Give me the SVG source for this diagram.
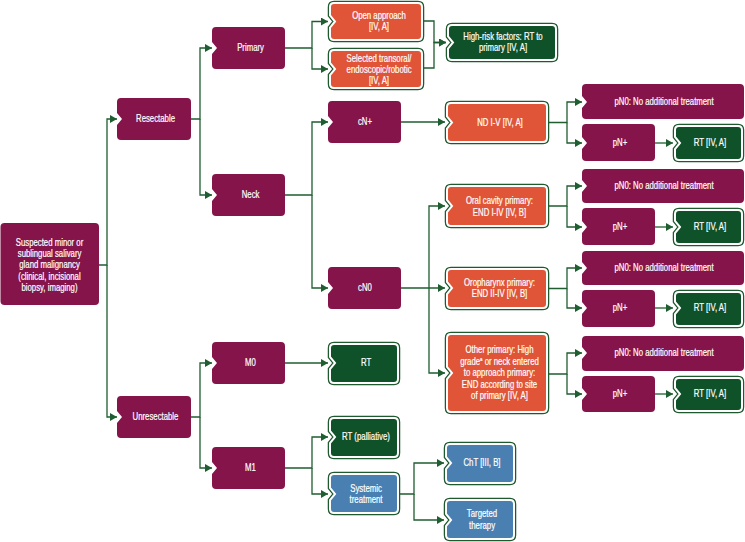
<svg xmlns="http://www.w3.org/2000/svg" width="745" height="542" viewBox="0 0 745 542">
<style>
.m{fill:#85144B}
.ring{fill:none;stroke:#1E5A2E;stroke-width:4.5}
.o{fill:#E05438;stroke:#FFFFFF;stroke-width:2}
.g{fill:#0F5128;stroke:#FFFFFF;stroke-width:2}
.b{fill:#4A7FB1;stroke:#FFFFFF;stroke-width:2}
text{font-family:"Liberation Sans",Arial,sans-serif;font-size:10px;fill:#FFFFFF;stroke:#FFFFFF;stroke-width:0.2;text-anchor:middle;transform-box:fill-box;transform-origin:center;transform:scaleX(0.78)}
.sup{font-size:5.5px}
#connectors path{fill:none;stroke:#1F5E30;stroke-width:1.3;marker-end:url(#arr)}
</style>
<defs>
<marker id="arr" markerUnits="userSpaceOnUse" markerWidth="7" markerHeight="8" refX="7" refY="4" orient="auto">
<path d="M0 0 L7 4 L0 8 Z" fill="#1F5E30"/>
</marker>
</defs>
<rect width="745" height="542" fill="#FFFFFF"/>

<g id="connectors">
<path d="M99 265 H107 V119 H117"/>
<path d="M107 265 V417 H117"/>
<path d="M191 119 H200 V48 H212"/>
<path d="M200 119 V195 H212"/>
<path d="M191 417 H200 V363 H212"/>
<path d="M200 417 V468 H212"/>
<path d="M285 48 H312 V21.5 H328"/>
<path d="M312 48 V69 H328"/>
<path d="M424 21 H434 V42.5 H446"/>
<path d="M424 68 H434 V42.5 H446"/>
<path d="M285 195 H312 V122 H328"/>
<path d="M312 195 V288 H328"/>
<path d="M401 122 H445"/>
<path d="M401 288 H445"/>
<path d="M429 288 V206 H445"/>
<path d="M429 288 V373 H445"/>
<path d="M549 122.5 H567 V102 H582"/>
<path d="M567 122.5 V143 H582"/>
<path d="M655 143 H673"/>
<path d="M549 206 H567 V186 H582"/>
<path d="M567 206 V227 H582"/>
<path d="M655 227 H673"/>
<path d="M549 288.5 H567 V268 H582"/>
<path d="M567 288.5 V308 H582"/>
<path d="M655 308 H673"/>
<path d="M549 374 H567 V353 H582"/>
<path d="M567 374 V394 H582"/>
<path d="M655 394 H673"/>
<path d="M285 363 H328"/>
<path d="M285 468 H312 V437 H328"/>
<path d="M312 468 V494 H328"/>
<path d="M400 494 H414 V463 H444"/>
<path d="M414 494 V520 H444"/>
</g>

<g id="n-root">
<rect class="m" x="0.5" y="223" width="98.5" height="82" rx="4"/>
<text x="49.5" y="245.8">Suspected minor or</text>
<text x="49.5" y="257">sublingual salivary</text>
<text x="49.5" y="268.3">gland malignancy</text>
<text x="49.5" y="279.6">(clinical, incisional</text>
<text x="49.5" y="291">biopsy, imaging)</text>
</g>

<g id="n-resectable">
<path class="m" d="M121 98 H187 Q191 98 191 102 V136 Q191 140 187 140 H121 Q117 140 117 136 V125 L122 119 L117 113 V102 Q117 98 121 98Z"/>
<text x="155.5" y="122.5">Resectable</text>
</g>

<g id="n-unresectable">
<path class="m" d="M121 396 H187 Q191 396 191 400 V434 Q191 438 187 438 H121 Q117 438 117 434 V423 L122 417 L117 411 V400 Q117 396 121 396Z"/>
<text x="155.5" y="420.5">Unresectable</text>
</g>

<g id="n-primary">
<path class="m" d="M216 27 H281 Q285 27 285 31 V65 Q285 69 281 69 H216 Q212 69 212 65 V54 L217 48 L212 42 V31 Q212 27 216 27Z"/>
<text x="250.5" y="51.5">Primary</text>
</g>

<g id="n-neck">
<path class="m" d="M216 174 H281 Q285 174 285 178 V212 Q285 216 281 216 H216 Q212 216 212 212 V201 L217 195 L212 189 V178 Q212 174 216 174Z"/>
<text x="250.5" y="198.5">Neck</text>
</g>

<g id="n-m0">
<path class="m" d="M216 342 H281 Q285 342 285 346 V380 Q285 384 281 384 H216 Q212 384 212 380 V369 L217 363 L212 357 V346 Q212 342 216 342Z"/>
<text x="250.5" y="366.5">M0</text>
</g>

<g id="n-m1">
<path class="m" d="M216 447 H281 Q285 447 285 451 V485 Q285 489 281 489 H216 Q212 489 212 485 V474 L217 468 L212 462 V451 Q212 447 216 447Z"/>
<text x="250.5" y="471.5">M1</text>
</g>

<g id="n-open">
<path class="ring" d="M334 3 H418 Q422 3 422 7 V36 Q422 40 418 40 H334 Q330 40 330 36 V27.5 L335 21.5 L330 15.5 V7 Q330 3 334 3Z"/>
<path class="o" d="M334 3 H418 Q422 3 422 7 V36 Q422 40 418 40 H334 Q330 40 330 36 V27.5 L335 21.5 L330 15.5 V7 Q330 3 334 3Z"/>
<text x="379" y="19">Open approach</text>
<text x="379" y="30">[IV, A]</text>
</g>

<g id="n-selected">
<path class="ring" d="M334 50 H418 Q422 50 422 54 V84 Q422 88 418 88 H334 Q330 88 330 84 V75 L335 69 L330 63 V54 Q330 50 334 50Z"/>
<path class="o" d="M334 50 H418 Q422 50 422 54 V84 Q422 88 418 88 H334 Q330 88 330 84 V75 L335 69 L330 63 V54 Q330 50 334 50Z"/>
<text x="379" y="62">Selected transoral/</text>
<text x="379" y="73">endoscopic/robotic</text>
<text x="379" y="84">[IV, A]</text>
</g>

<g id="n-highrisk">
<path class="ring" d="M452 25 H552 Q556 25 556 29 V56 Q556 60 552 60 H452 Q448 60 448 56 V48.5 L453 42.5 L448 36.5 V29 Q448 25 452 25Z"/>
<path class="g" d="M452 25 H552 Q556 25 556 29 V56 Q556 60 552 60 H452 Q448 60 448 56 V48.5 L453 42.5 L448 36.5 V29 Q448 25 452 25Z"/>
<text x="503" y="40">High-risk factors: RT to</text>
<text x="503" y="51">primary [IV, A]</text>
</g>

<g id="n-cnplus">
<path class="m" d="M332 101 H397 Q401 101 401 105 V139 Q401 143 397 143 H332 Q328 143 328 139 V128 L333 122 L328 116 V105 Q328 101 332 101Z"/>
<text x="365" y="125.5">cN+</text>
</g>

<g id="n-cn0">
<path class="m" d="M332 267 H397 Q401 267 401 271 V305 Q401 309 397 309 H332 Q328 309 328 305 V294 L333 288 L328 282 V271 Q328 267 332 267Z"/>
<text x="365" y="291.5">cN0</text>
</g>

<g id="n-nd">
<path class="ring" d="M451 103 H543 Q547 103 547 107 V138 Q547 142 543 142 H451 Q447 142 447 138 V128.5 L452 122.5 L447 116.5 V107 Q447 103 451 103Z"/>
<path class="o" d="M451 103 H543 Q547 103 547 107 V138 Q547 142 543 142 H451 Q447 142 447 138 V128.5 L452 122.5 L447 116.5 V107 Q447 103 451 103Z"/>
<text x="500" y="126">ND I-V [IV, A]</text>
</g>

<g id="n-oral">
<path class="ring" d="M451 186 H543 Q547 186 547 190 V222 Q547 226 543 226 H451 Q447 226 447 222 V212 L452 206 L447 200 V190 Q447 186 451 186Z"/>
<path class="o" d="M451 186 H543 Q547 186 547 190 V222 Q547 226 543 226 H451 Q447 226 447 222 V212 L452 206 L447 200 V190 Q447 186 451 186Z"/>
<text x="499.5" y="204.5">Oral cavity primary:</text>
<text x="499.5" y="215.8">END I-IV [IV, B]</text>
</g>

<g id="n-oro">
<path class="ring" d="M451 269 H543 Q547 269 547 273 V304 Q547 308 543 308 H451 Q447 308 447 304 V294 L452 288 L447 282 V273 Q447 269 451 269Z"/>
<path class="o" d="M451 269 H543 Q547 269 547 273 V304 Q547 308 543 308 H451 Q447 308 447 304 V294 L452 288 L447 282 V273 Q447 269 451 269Z"/>
<text x="499.5" y="286">Oropharynx primary:</text>
<text x="499.5" y="297">END II-IV [IV, B]</text>
</g>

<g id="n-other">
<path class="ring" d="M451 334 H543 Q547 334 547 338 V408 Q547 412 543 412 H451 Q447 412 447 408 V379 L452 373 L447 367 V338 Q447 334 451 334Z"/>
<path class="o" d="M451 334 H543 Q547 334 547 338 V408 Q547 412 543 412 H451 Q447 412 447 408 V379 L452 373 L447 367 V338 Q447 334 451 334Z"/>
<text x="499.5" y="353.5">Other primary: High</text>
<text x="499.5" y="365">grade<tspan class="sup" dy="-3.5">a</tspan><tspan dy="3.5"> or neck entered</tspan></text>
<text x="499.5" y="376.5">to approach primary:</text>
<text x="499.5" y="388">END according to site</text>
<text x="499.5" y="399.5">of primary [IV, A]</text>
</g>

<g id="n-pn0-1">
<path class="m" d="M586 84 H740 Q744 84 744 88 V115 Q744 119 740 119 H586 Q582 119 582 115 V108 L587 102 L582 96 V88 Q582 84 586 84Z"/>
<text x="664" y="105.5">pN0: No additional treatment</text>
</g>
<g id="n-pnp-1">
<path class="m" d="M586 124 H651 Q655 124 655 128 V157 Q655 161 651 161 H586 Q582 161 582 157 V149 L587 143 L582 137 V128 Q582 124 586 124Z"/>
<text x="620" y="146.5">pN+</text>
</g>
<g id="n-rt-1">
<path class="ring" d="M679 126 H738 Q742 126 742 130 V156 Q742 160 738 160 H679 Q675 160 675 156 V149 L680 143 L675 137 V130 Q675 126 679 126Z"/>
<path class="g" d="M679 126 H738 Q742 126 742 130 V156 Q742 160 738 160 H679 Q675 160 675 156 V149 L680 143 L675 137 V130 Q675 126 679 126Z"/>
<text x="710" y="146.5">RT [IV, A]</text>
</g>

<g id="n-pn0-2">
<path class="m" d="M586 169 H740 Q744 169 744 173 V199 Q744 203 740 203 H586 Q582 203 582 199 V192 L587 186 L582 180 V173 Q582 169 586 169Z"/>
<text x="664" y="189.5">pN0: No additional treatment</text>
</g>
<g id="n-pnp-2">
<path class="m" d="M586 208 H651 Q655 208 655 212 V241 Q655 245 651 245 H586 Q582 245 582 241 V233 L587 227 L582 221 V212 Q582 208 586 208Z"/>
<text x="620" y="230.5">pN+</text>
</g>
<g id="n-rt-2">
<path class="ring" d="M679 210 H738 Q742 210 742 214 V240 Q742 244 738 244 H679 Q675 244 675 240 V233 L680 227 L675 221 V214 Q675 210 679 210Z"/>
<path class="g" d="M679 210 H738 Q742 210 742 214 V240 Q742 244 738 244 H679 Q675 244 675 240 V233 L680 227 L675 221 V214 Q675 210 679 210Z"/>
<text x="710" y="230.5">RT [IV, A]</text>
</g>

<g id="n-pn0-3">
<path class="m" d="M586 251 H740 Q744 251 744 255 V281 Q744 285 740 285 H586 Q582 285 582 281 V274 L587 268 L582 262 V255 Q582 251 586 251Z"/>
<text x="664" y="271.5">pN0: No additional treatment</text>
</g>
<g id="n-pnp-3">
<path class="m" d="M586 290 H651 Q655 290 655 294 V323 Q655 327 651 327 H586 Q582 327 582 323 V314 L587 308 L582 302 V294 Q582 290 586 290Z"/>
<text x="620" y="311.5">pN+</text>
</g>
<g id="n-rt-3">
<path class="ring" d="M679 292 H738 Q742 292 742 296 V322 Q742 326 738 326 H679 Q675 326 675 322 V314 L680 308 L675 302 V296 Q675 292 679 292Z"/>
<path class="g" d="M679 292 H738 Q742 292 742 296 V322 Q742 326 738 326 H679 Q675 326 675 322 V314 L680 308 L675 302 V296 Q675 292 679 292Z"/>
<text x="710" y="311.5">RT [IV, A]</text>
</g>

<g id="n-pn0-4">
<path class="m" d="M586 336 H740 Q744 336 744 340 V367 Q744 371 740 371 H586 Q582 371 582 367 V359 L587 353 L582 347 V340 Q582 336 586 336Z"/>
<text x="664" y="356.5">pN0: No additional treatment</text>
</g>
<g id="n-pnp-4">
<path class="m" d="M586 376 H651 Q655 376 655 380 V408 Q655 412 651 412 H586 Q582 412 582 408 V400 L587 394 L582 388 V380 Q582 376 586 376Z"/>
<text x="620" y="397.5">pN+</text>
</g>
<g id="n-rt-4">
<path class="ring" d="M679 378 H738 Q742 378 742 382 V407 Q742 411 738 411 H679 Q675 411 675 407 V400 L680 394 L675 388 V382 Q675 378 679 378Z"/>
<path class="g" d="M679 378 H738 Q742 378 742 382 V407 Q742 411 738 411 H679 Q675 411 675 407 V400 L680 394 L675 388 V382 Q675 378 679 378Z"/>
<text x="710" y="397.5">RT [IV, A]</text>
</g>

<g id="n-rt-m0">
<path class="ring" d="M334 344 H394 Q398 344 398 348 V379 Q398 383 394 383 H334 Q330 383 330 379 V369 L335 363 L330 357 V348 Q330 344 334 344Z"/>
<path class="g" d="M334 344 H394 Q398 344 398 348 V379 Q398 383 394 383 H334 Q330 383 330 379 V369 L335 363 L330 357 V348 Q330 344 334 344Z"/>
<text x="366" y="366.5">RT</text>
</g>

<g id="n-rt-pall">
<path class="ring" d="M334 418 H394 Q398 418 398 422 V453 Q398 457 394 457 H334 Q330 457 330 453 V443 L335 437 L330 431 V422 Q330 418 334 418Z"/>
<path class="g" d="M334 418 H394 Q398 418 398 422 V453 Q398 457 394 457 H334 Q330 457 330 453 V443 L335 437 L330 431 V422 Q330 418 334 418Z"/>
<text x="366" y="440.5">RT (palliative)</text>
</g>

<g id="n-systemic">
<path class="ring" d="M334 474 H394 Q398 474 398 478 V509 Q398 513 394 513 H334 Q330 513 330 509 V500 L335 494 L330 488 V478 Q330 474 334 474Z"/>
<path class="b" d="M334 474 H394 Q398 474 398 478 V509 Q398 513 394 513 H334 Q330 513 330 509 V500 L335 494 L330 488 V478 Q330 474 334 474Z"/>
<text x="366" y="492">Systemic</text>
<text x="366" y="503">treatment</text>
</g>

<g id="n-cht">
<path class="ring" d="M450 444 H510 Q514 444 514 448 V479 Q514 483 510 483 H450 Q446 483 446 479 V469 L451 463 L446 457 V448 Q446 444 450 444Z"/>
<path class="b" d="M450 444 H510 Q514 444 514 448 V479 Q514 483 510 483 H450 Q446 483 446 479 V469 L451 463 L446 457 V448 Q446 444 450 444Z"/>
<text x="482" y="466.5">ChT [III, B]</text>
</g>

<g id="n-targeted">
<path class="ring" d="M450 500 H510 Q514 500 514 504 V535 Q514 539 510 539 H450 Q446 539 446 535 V526 L451 520 L446 514 V504 Q446 500 450 500Z"/>
<path class="b" d="M450 500 H510 Q514 500 514 504 V535 Q514 539 510 539 H450 Q446 539 446 535 V526 L451 520 L446 514 V504 Q446 500 450 500Z"/>
<text x="482" y="517.5">Targeted</text>
<text x="482" y="529">therapy</text>
</g>
</svg>
